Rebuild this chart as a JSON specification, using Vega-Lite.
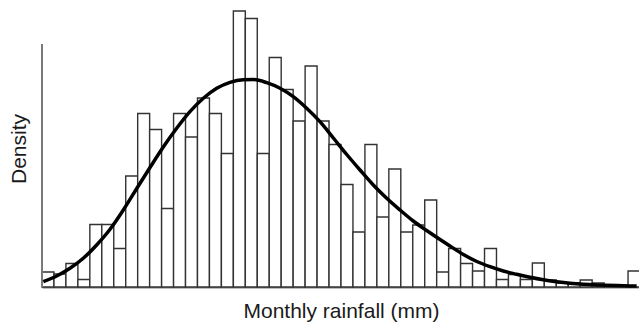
{
  "$schema": "https://vega.github.io/schema/vega-lite/v6.json",
  "width": 598,
  "height": 277,
  "autosize": {"type": "none"},
  "padding": {"left": 42, "top": 10, "right": 0, "bottom": 39},
  "background": "white",
  "config": {
    "view": {"stroke": null},
    "font": "Liberation Sans"
  },
  "datasets": {
    "bins": [
      {"start": 0, "end": 10, "density": 15},
      {"start": 10, "end": 20, "density": 13},
      {"start": 20, "end": 30, "density": 23.5},
      {"start": 30, "end": 40, "density": 7.5},
      {"start": 40, "end": 50, "density": 62.5},
      {"start": 50, "end": 60, "density": 62.5},
      {"start": 60, "end": 70, "density": 38.5},
      {"start": 70, "end": 80, "density": 111},
      {"start": 80, "end": 90, "density": 173.5},
      {"start": 90, "end": 100, "density": 157.5},
      {"start": 100, "end": 110, "density": 78.5},
      {"start": 110, "end": 120, "density": 173.5},
      {"start": 120, "end": 130, "density": 150},
      {"start": 130, "end": 140, "density": 189},
      {"start": 140, "end": 150, "density": 173.5},
      {"start": 150, "end": 160, "density": 133.5},
      {"start": 160, "end": 170, "density": 276},
      {"start": 170, "end": 180, "density": 268.5},
      {"start": 180, "end": 190, "density": 133.5},
      {"start": 190, "end": 200, "density": 229.5},
      {"start": 200, "end": 210, "density": 197.5},
      {"start": 210, "end": 220, "density": 166},
      {"start": 220, "end": 230, "density": 221},
      {"start": 230, "end": 240, "density": 166},
      {"start": 240, "end": 250, "density": 142.5},
      {"start": 250, "end": 260, "density": 102.5},
      {"start": 260, "end": 270, "density": 55},
      {"start": 270, "end": 280, "density": 142.5},
      {"start": 280, "end": 290, "density": 70},
      {"start": 290, "end": 300, "density": 118},
      {"start": 300, "end": 310, "density": 55},
      {"start": 310, "end": 320, "density": 62},
      {"start": 320, "end": 330, "density": 87},
      {"start": 330, "end": 340, "density": 15},
      {"start": 340, "end": 350, "density": 38.5},
      {"start": 350, "end": 360, "density": 23.5},
      {"start": 360, "end": 370, "density": 16},
      {"start": 370, "end": 380, "density": 38.5},
      {"start": 380, "end": 390, "density": 7.5},
      {"start": 390, "end": 400, "density": 12.5},
      {"start": 400, "end": 410, "density": 7.5},
      {"start": 410, "end": 420, "density": 24},
      {"start": 420, "end": 430, "density": 7},
      {"start": 430, "end": 440, "density": 4},
      {"start": 440, "end": 450, "density": 4},
      {"start": 450, "end": 460, "density": 7},
      {"start": 460, "end": 470, "density": 4},
      {"start": 470, "end": 480, "density": 2},
      {"start": 480, "end": 490, "density": 1},
      {"start": 490, "end": 500, "density": 16}
    ],
    "curve": [
      {"rain": 1.1, "density": 5.3},
      {"rain": 12.3, "density": 11},
      {"rain": 23.4, "density": 18.7},
      {"rain": 34.5, "density": 28.7},
      {"rain": 45.7, "density": 42},
      {"rain": 56.9, "density": 57.7},
      {"rain": 68.0, "density": 77},
      {"rain": 79.2, "density": 98.5},
      {"rain": 90.3, "density": 119.5},
      {"rain": 101.4, "density": 140},
      {"rain": 112.6, "density": 158.7},
      {"rain": 123.7, "density": 175.3},
      {"rain": 134.9, "density": 188.7},
      {"rain": 146.1, "density": 198.7},
      {"rain": 157.2, "density": 204.7},
      {"rain": 168.3, "density": 207.2},
      {"rain": 176.7, "density": 207.4},
      {"rain": 187.9, "density": 204.3},
      {"rain": 199.0, "density": 198.7},
      {"rain": 210.1, "density": 190.3},
      {"rain": 221.3, "density": 178.7},
      {"rain": 232.4, "density": 165.3},
      {"rain": 243.6, "density": 149},
      {"rain": 254.8, "density": 132.5},
      {"rain": 265.9, "density": 117},
      {"rain": 277.0, "density": 102},
      {"rain": 288.2, "density": 88.7},
      {"rain": 299.3, "density": 77},
      {"rain": 310.4, "density": 66},
      {"rain": 321.6, "density": 56.5},
      {"rain": 332.8, "density": 47.5},
      {"rain": 341.1, "density": 41},
      {"rain": 352.3, "density": 32.5},
      {"rain": 363.5, "density": 25.5},
      {"rain": 374.6, "density": 20.3},
      {"rain": 385.7, "density": 16},
      {"rain": 396.9, "density": 12.7},
      {"rain": 408.0, "density": 9.7},
      {"rain": 419.1, "density": 7.2},
      {"rain": 430.3, "density": 5.3},
      {"rain": 441.5, "density": 3.8},
      {"rain": 452.6, "density": 2.8},
      {"rain": 463.8, "density": 2.1},
      {"rain": 480.5, "density": 1.4},
      {"rain": 497.2, "density": 1}
    ],
    "yline": [
      {"rain": 0, "bottom": 0, "top": 243}
    ]
  },
  "layer": [
    {
      "data": {"name": "bins"},
      "mark": {"type": "rect", "fill": "white", "stroke": "#333333", "strokeWidth": 1.4},
      "encoding": {
        "x": {
          "field": "start", "type": "quantitative",
          "scale": {"domain": [0, 500], "nice": false, "zero": false},
          "axis": {"title": "Monthly rainfall (mm)", "labels": false, "ticks": false, "grid": false,
                   "domainColor": "#7a7a7a", "domainWidth": 2,
                   "titleFont": "Liberation Sans", "titleFontSize": 21, "titleFontWeight": "normal",
                   "titleColor": "#1a1a1a", "titlePadding": 13}
        },
        "x2": {"field": "end"},
        "y": {
          "field": "density", "type": "quantitative",
          "scale": {"domain": [0, 277], "nice": false},
          "axis": {"title": "Density", "labels": false, "ticks": false, "grid": false, "domain": false,
                   "titleFont": "Liberation Sans", "titleFontSize": 21, "titleFontWeight": "normal",
                   "titleColor": "#1a1a1a", "titlePadding": 13}
        },
        "y2": {"datum": 0}
      }
    },
    {
      "data": {"name": "yline"},
      "mark": {"type": "rule", "color": "#7a7a7a", "strokeWidth": 2},
      "encoding": {
        "x": {"field": "rain", "type": "quantitative"},
        "y": {"field": "bottom", "type": "quantitative"},
        "y2": {"field": "top"}
      }
    },
    {
      "data": {"name": "curve"},
      "mark": {"type": "line", "color": "black", "strokeWidth": 3.5, "interpolate": "monotone"},
      "encoding": {
        "x": {"field": "rain", "type": "quantitative"},
        "y": {"field": "density", "type": "quantitative"}
      }
    }
  ]
}
